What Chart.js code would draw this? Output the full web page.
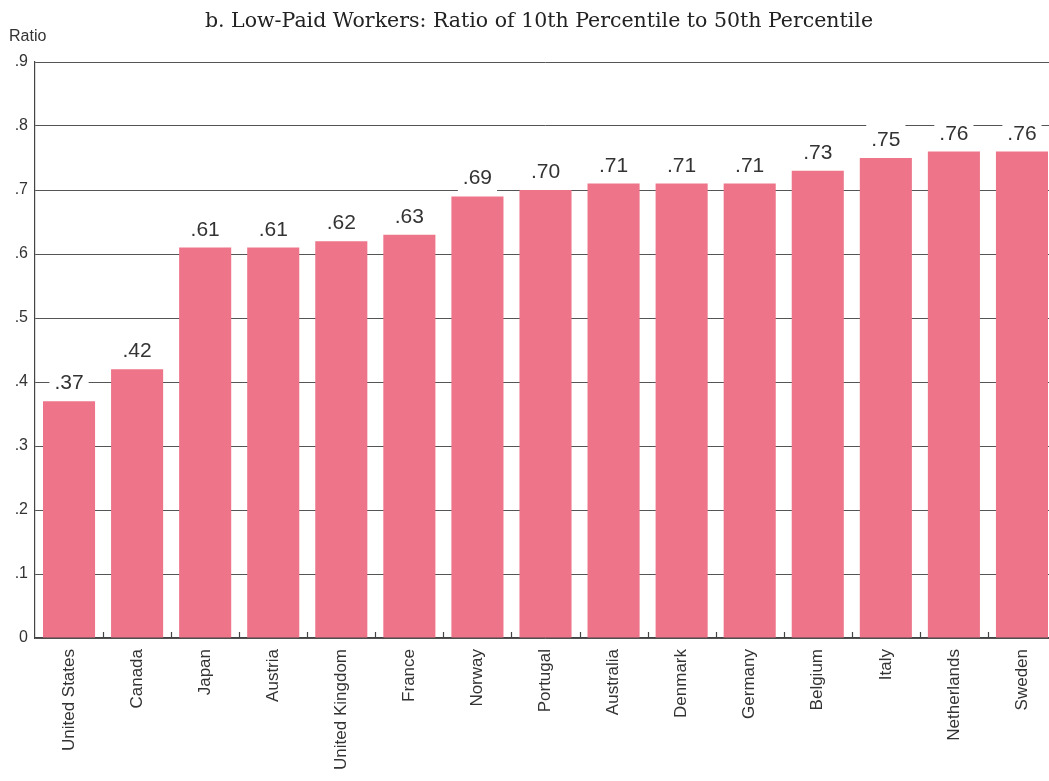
<!DOCTYPE html>
<html>
<head>
<meta charset="utf-8">
<script src="https://cdn.jsdelivr.net/npm/chart.js@4"></script>
<style>
  html, body { margin: 0; padding: 0; background: #fff; overflow: hidden; }
  #wrap { position: relative; width: 1049px; height: 781px; overflow: hidden; }
  #title { position: absolute; left: 0; width: 1078px; top: 8px; text-align: center;
           font-family: "DejaVu Serif", "Liberation Serif", serif; font-size: 20.5px; color: #222; }
  #ratio { position: absolute; left: 9px; top: 27px; font-family: "Liberation Sans", Arial, sans-serif;
           font-size: 16px; color: #333; }
  canvas { position: absolute; left: 0; top: 0; }
</style>
</head>
<body>
<div id="wrap">
  <canvas id="lowPaid" width="1056" height="781"></canvas>
  <div id="title">b. Low-Paid Workers: Ratio of 10th Percentile to 50th Percentile</div>
  <div id="ratio">Ratio</div>
</div>
<script>
// pays et ratio P10/P50
const countries = ['United States', 'Canada', 'Japan', 'Austria', 'United Kingdom', 'France', 'Norway',
  'Portugal', 'Australia', 'Denmark', 'Germany', 'Belgium', 'Italy', 'Netherlands', 'Sweden'];
const ratios = [0.37, 0.42, 0.61, 0.61, 0.62, 0.63, 0.69, 0.70, 0.71, 0.71, 0.71, 0.73, 0.75, 0.76, 0.76];
const yTicks = [0, 0.1, 0.2, 0.3, 0.4, 0.5, 0.6, 0.7, 0.8, 0.9];

const sans = '"Liberation Sans", Arial, sans-serif';
const fmtTick = v => v === 0 ? '0' : v.toFixed(1).replace(/^0/, '');
const fmtVal = v => v.toFixed(2).replace(/^0/, '');

// etiquettes au-dessus des barres, sur fond blanc qui coupe la grille
const barLabels = {
  id: 'barLabels',
  afterDatasetsDraw(chart) {
    const ctx = chart.ctx;
    const meta = chart.getDatasetMeta(0);
    ctx.save();
    ctx.font = '21px ' + sans;
    ctx.textAlign = 'center';
    ctx.textBaseline = 'alphabetic';
    meta.data.forEach((bar, i) => {
      const txt = fmtVal(ratios[i]);
      const w = ctx.measureText(txt).width + 10;
      ctx.fillStyle = '#fff';
      ctx.fillRect(bar.x - w / 2, bar.y - 36, w, 35);
      ctx.fillStyle = '#333';
      ctx.fillText(txt, bar.x, bar.y - 12);
    });
    ctx.restore();
  }
};

// petits traits verticaux entre les catégories, sur l'axe horizontal
const catTicks = {
  id: 'catTicks',
  afterDatasetsDraw(chart) {
    const ctx = chart.ctx;
    const x = chart.scales.x;
    const bottom = chart.chartArea.bottom;
    ctx.save();
    ctx.strokeStyle = '#444';
    ctx.lineWidth = 1.2;
    for (let i = 0; i < countries.length - 1; i++) {
      const px = Math.round((x.getPixelForValue(i) + x.getPixelForValue(i + 1)) / 2) + 0.5;
      ctx.beginPath();
      ctx.moveTo(px, bottom);
      ctx.lineTo(px, bottom - 6);
      ctx.stroke();
    }
    ctx.restore();
  }
};

new Chart(document.getElementById('lowPaid').getContext('2d'), {
  type: 'bar',
  data: {
    labels: countries,
    datasets: [{
      data: ratios,
      backgroundColor: '#ed7489',
      borderWidth: 0,
      barPercentage: 0.765,
      categoryPercentage: 1
    }]
  },
  options: {
    responsive: false,
    animation: false,
    layout: { padding: { top: 62, left: 0, right: 0, bottom: 0 } },
    plugins: { legend: { display: false }, tooltip: { enabled: false } },
    scales: {
      x: {
        afterFit(scale) { scale.height = 143; },
        grid: { display: false },
        border: { color: '#444', width: 1.2 },
        ticks: {
          color: '#333',
          font: { family: sans, size: 17 },
          minRotation: 90,
          maxRotation: 90,
          padding: 3,
          autoSkip: false
        }
      },
      y: {
        min: 0,
        max: 0.9,
        afterFit(scale) { scale.width = 35; },
        afterBuildTicks(scale) { scale.ticks = yTicks.map(v => ({ value: v })); },
        grid: { color: '#555', lineWidth: 1, drawTicks: false },
        border: { color: '#444', width: 1.2 },
        ticks: {
          color: '#333',
          font: { family: sans, size: 16 },
          padding: 7,
          callback: v => fmtTick(v)
        }
      }
    }
  },
  plugins: [barLabels, catTicks]
});
</script>
</body>
</html>
